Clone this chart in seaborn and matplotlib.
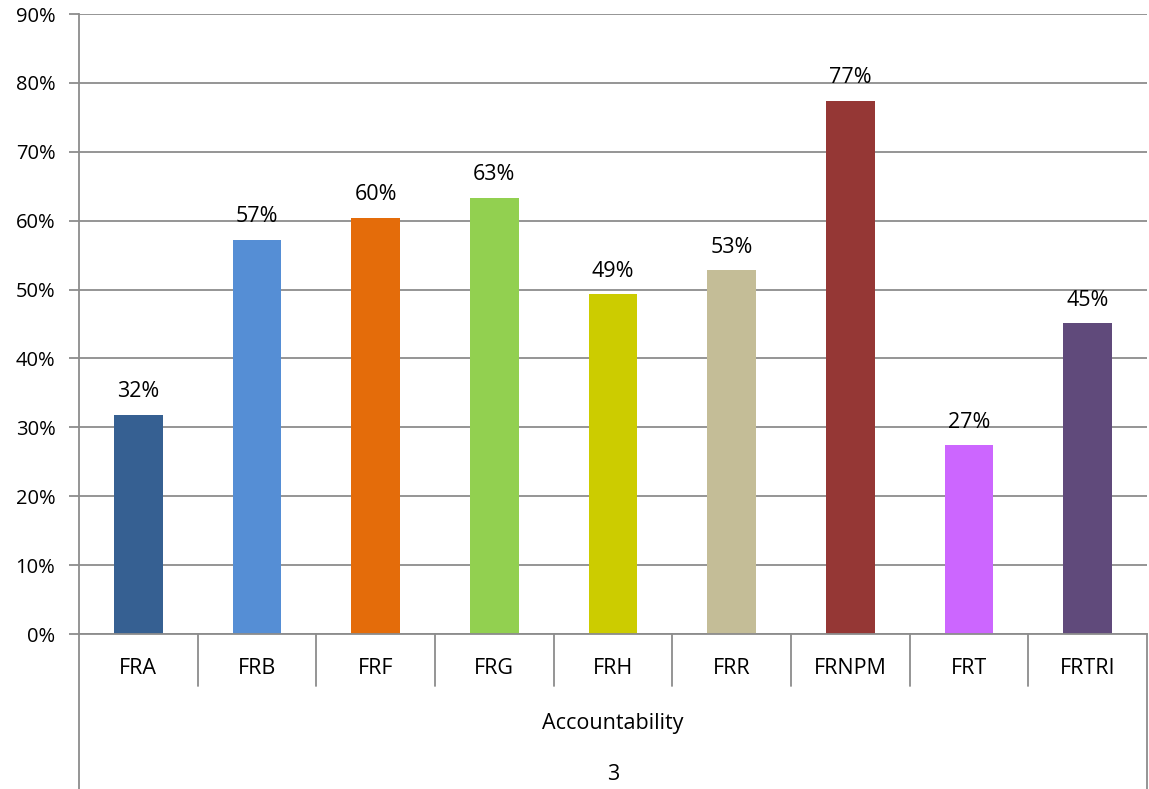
import matplotlib
matplotlib.use("Agg")
import matplotlib.pyplot as plt
import matplotlib.transforms as mtransforms
import numpy as np
import pandas as pd
import seaborn as sns

categories = ["FRA", "FRB", "FRF", "FRG", "FRH", "FRR", "FRNPM", "FRT", "FRTRI"]
values = [31.8, 57.2, 60.4, 63.3, 49.3, 52.8, 77.4, 27.4, 45.1]
colors = ["#366092", "#558ED5", "#E46C0A", "#92D050", "#CCCC00",
          "#C4BD97", "#953735", "#CC66FF", "#604A7B"]
group_label = "Accountability"
level_label = "3"

df = pd.DataFrame({"cat": categories, "val": values})

sns.set_style("white")
plt.rcParams['font.family'] = ['Open Sans', 'DejaVu Sans']
plt.rcParams['text.color'] = 'black'
grey = "#8c8c8c"
fs = 15.5

fig = plt.figure(figsize=(11.49, 7.89), dpi=100)
ax = fig.add_axes([79 / 1149, 155 / 789, 1068 / 1149, 620 / 789])

sns.barplot(data=df, x="cat", y="val", hue="cat", palette=colors,
            width=0.41, legend=False, saturation=1, linewidth=0, ax=ax)

for c in ax.containers:
    ax.bar_label(c, labels=[f"{v:.0f}%" for v in c.datavalues],
                 padding=9, fontsize=fs, color="black")

ax.set_ylim(0, 90)
ax.set_xlim(-0.5, len(categories) - 0.5)
ax.set_yticks(np.arange(0, 91, 10))
ax.set_yticklabels([f"{t}%" for t in range(0, 91, 10)], fontsize=14.5)
ax.yaxis.grid(True, color=grey, linewidth=1.3)
ax.set_axisbelow(True)
ax.tick_params(axis="y", length=7, width=1.3, color=grey, left=True, pad=10,
               labelcolor="black")
ax.set_xticks([])
ax.set_xlabel("")
ax.set_ylabel("")
for s in ["top", "right"]:
    ax.spines[s].set_visible(False)
ax.spines["left"].set_color(grey)
ax.spines["left"].set_linewidth(1.3)
ax.spines["bottom"].set_color(grey)
ax.spines["bottom"].set_linewidth(1.3)

# multi-level category axis below the plot
trans = mtransforms.blended_transform_factory(ax.transData, fig.transFigure)
y0 = 155 / 789
y_sep = 103 / 789
for i in range(1, len(categories)):
    ax.plot([i - 0.5, i - 0.5], [y0, y_sep], color=grey, lw=1.3,
            transform=trans, clip_on=False)
ax.plot([-0.5, -0.5], [y0, 0], color=grey, lw=1.3, transform=trans, clip_on=False)
ax.plot([len(categories) - 0.5] * 2, [y0, 0], color=grey, lw=1.3,
        transform=trans, clip_on=False)

for i, c in enumerate(categories):
    ax.text(i, 121 / 789, c, transform=trans, ha="center", va="center", fontsize=fs)
mid = (len(categories) - 1) / 2
ax.text(mid, 66 / 789, group_label, transform=trans, ha="center", va="center", fontsize=fs)
ax.text(mid, 14 / 789, level_label, transform=trans, ha="center", va="center", fontsize=fs)

fig.savefig("out.png", dpi=100)
